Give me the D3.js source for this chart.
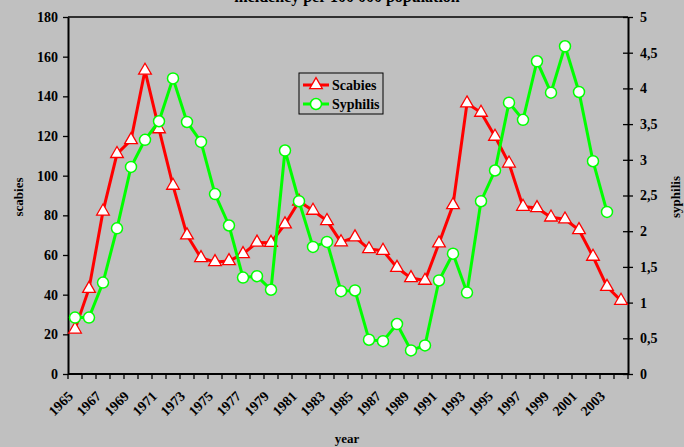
<!doctype html>
<html>
<head>
    <script src="https://d3js.org/d3.v7.min.js"></script>
    <style>
        body { margin: 0; background: #c0c0c0; }
        text { font-family: "Liberation Serif", "Times New Roman", serif; font-weight: bold; }
    </style>
</head>
<body>

    <svg width="684" height="447"></svg>

    <script>
        var years = d3.range(1965, 2005);
        var scabies = [22.5, 43, 82, 111, 118, 153, 123.5, 95, 70, 58.5, 56.5, 57, 60.5, 66.3,
                       66.2, 75.5, 87, 82.4, 77.2, 66.5, 69, 63, 62.2, 53.6, 48.4, 47.1,
                       65.9, 85.2, 136.5, 131.8, 119.7, 106.2, 84.4, 83.7, 79, 78, 72.6, 59.2, 44, 37];
        var syphilis = [0.79, 0.79, 1.28, 2.04, 2.9, 3.28, 3.54, 4.14, 3.53, 3.25, 2.52, 2.08, 1.35, 1.37,
                        1.18, 3.13, 2.42, 1.78, 1.85, 1.16, 1.17, 0.48, 0.46, 0.7, 0.33, 0.4,
                        1.31, 1.685, 1.14, 2.42, 2.85, 3.8, 3.56, 4.38, 3.94, 4.59, 3.95, 2.98, 2.27];
        var yearLabels = d3.range(1965, 2004, 2);
        var leftTicks = d3.range(0, 181, 20);
        var rightTicks = d3.range(0, 5.01, 0.5);

        var svg = d3.select("svg"),
            pLeft = 68, pRight = 628, pTop = 17, pBottom = 374;

        var x = d3.scaleBand().domain(years).range([pLeft, pRight]);
        var yL = d3.scaleLinear().domain([0, 180]).range([pBottom, pTop]);
        var yR = d3.scaleLinear().domain([0, 5]).range([pBottom, pTop]);

        // title (cut off at top in the original)
        svg.append("text")
            .attr("x", 347)
            .attr("y", 2)
            .attr("text-anchor", "middle")
            .attr("font-size", "16px")
            .text("incidency per 100 000 population");

        // frame
        svg.append("line").attr("x1", pLeft).attr("x2", pRight).attr("y1", pTop).attr("y2", pTop)
            .attr("stroke", "#000").attr("stroke-width", 1.3);

        // left axis
        var axL = svg.append("g").attr("transform", "translate(" + pLeft + ",0)")
            .call(d3.axisLeft(yL).tickValues(leftTicks).tickSize(5).tickPadding(5).tickSizeOuter(0));
        axL.selectAll("text").attr("font-size", "14px").attr("fill", "#000");

        // right axis
        var axR = svg.append("g").attr("transform", "translate(" + pRight + ",0)")
            .call(d3.axisRight(yR).tickValues(rightTicks).tickSize(5).tickPadding(7).tickSizeOuter(0)
                .tickFormat(function(d) { return String(d).replace(".", ","); }));
        axR.selectAll("text").attr("font-size", "14px").attr("fill", "#000");
        axR.selectAll(".tick line").attr("x1", -5);

        [axL, axR].forEach(function(a) {
            a.select(".domain").attr("stroke-width", 2);
            a.selectAll(".tick line").attr("stroke-width", 1.3);
        });

        // bottom axis: ticks between categories
        var gx = svg.append("g");
        gx.selectAll("line.t")
            .data(years.concat([2005]))
            .enter().append("line")
            .attr("x1", function(d) { return d === 2005 ? pRight : x(d); })
            .attr("x2", function(d) { return d === 2005 ? pRight : x(d); })
            .attr("y1", pBottom).attr("y2", pBottom + 5)
            .attr("stroke", "#000").attr("stroke-width", 1.3);
        gx.append("line").attr("x1", pLeft).attr("x2", pRight).attr("y1", pBottom).attr("y2", pBottom)
            .attr("stroke", "#000").attr("stroke-width", 2);
        gx.selectAll("text")
            .data(yearLabels)
            .enter().append("text")
            .attr("transform", function(d) {
                return "translate(" + (x(d) + x.bandwidth() / 2 - 8) + "," + (pBottom + 16) + ") rotate(-45)";
            })
            .attr("text-anchor", "end")
            .attr("dy", "0.7em")
            .attr("font-size", "14px")
            .text(function(d) { return d; });

        // axis titles
        svg.append("text")
            .attr("transform", "translate(23,197) rotate(-90)")
            .attr("text-anchor", "middle")
            .attr("font-size", "13px")
            .text("scabies");
        svg.append("text")
            .attr("transform", "translate(680,197) rotate(-90)")
            .attr("text-anchor", "middle")
            .attr("font-size", "13px")
            .text("syphilis");
        svg.append("text")
            .attr("x", 347)
            .attr("y", 443)
            .attr("text-anchor", "middle")
            .attr("font-size", "13px")
            .text("year");

        var cx = function(d, i) { return x(years[i]) + x.bandwidth() / 2; };

        // scabies
        svg.append("path")
            .datum(scabies)
            .attr("fill", "none")
            .attr("stroke", "#ff0000")
            .attr("stroke-width", 3)
            .attr("d", d3.line().x(cx).y(function(d) { return yL(d); }));

        var tri = d3.symbol().type(d3.symbolTriangle).size(70);
        svg.selectAll("path.tri")
            .data(scabies)
            .enter().append("path")
            .attr("class", "tri")
            .attr("transform", function(d, i) { return "translate(" + cx(d, i) + "," + yL(d) + ")"; })
            .attr("d", tri)
            .attr("fill", "#fff")
            .attr("stroke", "#ff0000")
            .attr("stroke-width", 1.3);

        // syphilis
        svg.append("path")
            .datum(syphilis)
            .attr("fill", "none")
            .attr("stroke", "#00ff00")
            .attr("stroke-width", 3)
            .attr("d", d3.line().x(cx).y(function(d) { return yR(d); }));

        svg.selectAll("circle.s")
            .data(syphilis)
            .enter().append("circle")
            .attr("class", "s")
            .attr("cx", cx)
            .attr("cy", function(d) { return yR(d); })
            .attr("r", 5.5)
            .attr("fill", "#fff")
            .attr("stroke", "#00ff00")
            .attr("stroke-width", 1.5);

        // legend
        var lg = svg.append("g").attr("transform", "translate(299,73)");
        lg.append("rect").attr("width", 84).attr("height", 41)
            .attr("fill", "#c0c0c0").attr("stroke", "#000").attr("stroke-width", 1);
        var items = [{name: "Scabies", color: "#ff0000"}, {name: "Syphilis", color: "#00ff00"}];
        items.forEach(function(it, i) {
            var yy = 12 + i * 19;
            lg.append("line").attr("x1", 4).attr("x2", 30).attr("y1", yy).attr("y2", yy)
                .attr("stroke", it.color).attr("stroke-width", 3);
            if (i === 0) {
                lg.append("path").attr("d", tri).attr("transform", "translate(17," + yy + ")")
                    .attr("fill", "#fff").attr("stroke", it.color).attr("stroke-width", 1.3);
            } else {
                lg.append("circle").attr("cx", 17).attr("cy", yy).attr("r", 5.5)
                    .attr("fill", "#fff").attr("stroke", it.color).attr("stroke-width", 1.5);
            }
            lg.append("text").attr("x", 33).attr("y", yy).attr("dy", "0.35em")
                .attr("font-size", "14px").text(it.name);
        });
    </script>
</body>
</html>
